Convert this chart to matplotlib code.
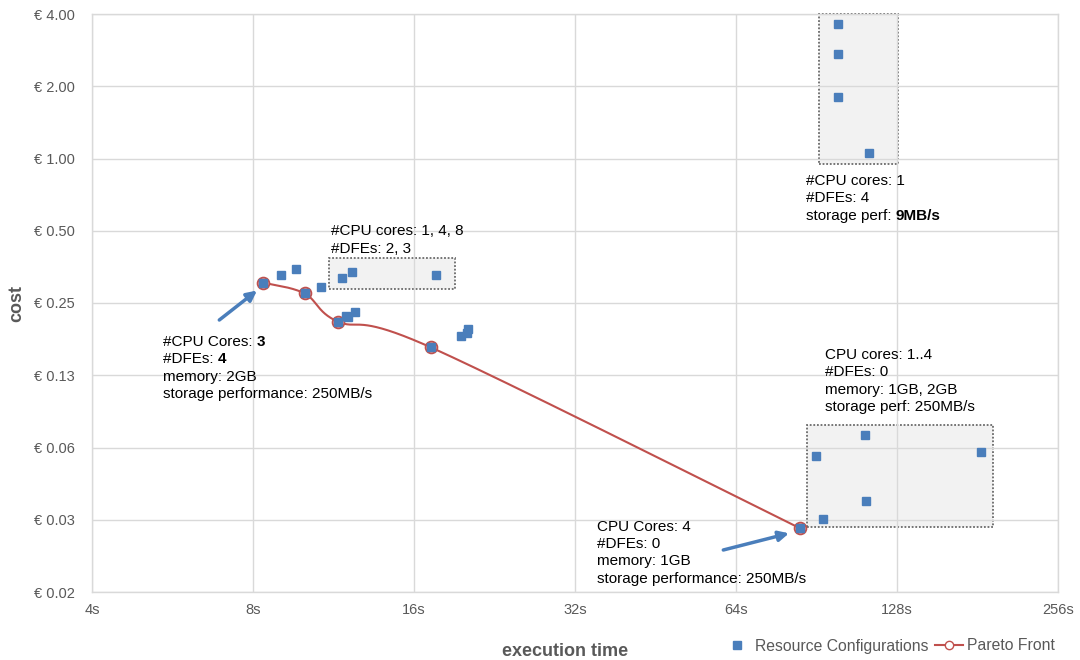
import numpy as np
import matplotlib
matplotlib.use("Agg")
import matplotlib.pyplot as plt
from matplotlib.patches import Rectangle
from matplotlib.lines import Line2D

plt.rcParams['font.family'] = ['Liberation Sans', 'DejaVu Sans']

# ---------------- data ----------------
config_time = [8.36, 9.04, 9.64, 9.99, 10.71, 11.54, 11.74, 12.24, 17.61,
               11.92, 12.05, 12.41, 17.18, 19.61, 20.07, 20.18,
               84.3, 90.4, 93.2, 111.4, 112.2, 184.0,
               99.4, 99.4, 99.2, 113.6]
config_cost = [0.304, 0.326, 0.3475, 0.274, 0.2924, 0.209, 0.3187, 0.3367, 0.328,
               0.2207, 0.2185, 0.230, 0.1636, 0.182, 0.187, 0.195,
               0.0288, 0.0578, 0.0314, 0.0707, 0.0373, 0.0600,
               3.62, 2.72, 1.809, 1.057]

pareto_time = [8.36, 9.99, 11.54, 17.18, 84.3]
pareto_cost = [0.304, 0.274, 0.209, 0.1636, 0.0288]

x_ticks = [4, 8, 16, 32, 64, 128, 256]
x_tick_labels = ["4s", "8s", "16s", "32s", "64s", "128s", "256s"]
y_ticks = [1/64, 1/32, 1/16, 1/8, 1/4, 1/2, 1, 2, 4]
y_tick_labels = ["€ 0.02", "€ 0.03", "€ 0.06", "€ 0.13", "€ 0.25",
                 "€ 0.50", "€ 1.00", "€ 2.00", "€ 4.00"]

# group boxes (time range, cost range)
boxes = [((11.1, 19.1), (0.286, 0.384)),
         ((91.6, 128.4), (0.946, 4.0)),
         ((87.0, 193.2), (0.0291, 0.0775))]

# annotation lines: list of (text, bold) segments per line
notes = [
    (331, 235.3, [[("#CPU cores: 1, 4, 8", False)], [("#DFEs: 2, 3", False)]]),
    (806, 185, [[("#CPU cores: 1", False)], [("#DFEs: 4", False)],
                [("storage perf: ", False), ("9MB/s", True)]]),
    (163, 346, [[("#CPU Cores: ", False), ("3", True)], [("#DFEs: ", False), ("4", True)],
                [("memory: 2GB", False)], [("storage performance: 250MB/s", False)]]),
    (825, 359, [[("CPU cores: 1..4", False)], [("#DFEs: 0", False)],
                [("memory: 1GB, 2GB", False)], [("storage perf: 250MB/s", False)]]),
    (597, 530.7, [[("CPU Cores: 4", False)], [("#DFEs: 0", False)],
                  [("memory: 1GB", False)], [("storage performance: 250MB/s", False)]]),
]

# ---------------- style ----------------
W, H = 1080, 660
BLUE = '#4a7ebb'
RED = '#c0504d'
GRID = '#d9d9d9'
GRAY = '#595959'

fig = plt.figure(figsize=(W/100, H/100), dpi=100)
ax = fig.add_axes([92/W, (H-592)/H, 966/W, 578/H])
ax.set_xscale('log', base=2)
ax.set_yscale('log', base=2)
ax.set_xlim(4, 256)
ax.set_ylim(1/64, 4)
ax.set_xticks(x_ticks)
ax.set_xticklabels(x_tick_labels)
ax.set_yticks(y_ticks)
ax.set_yticklabels(y_tick_labels)
ax.minorticks_off()
ax.tick_params(length=0, labelsize=10.5, labelcolor=GRAY)
ax.tick_params(axis='y', pad=12.5)
ax.tick_params(axis='x', pad=8)
ax.grid(True, color=GRID, lw=1)
ax.set_axisbelow(True)
for s in ax.spines.values():
    s.set_color(GRID)
    s.set_linewidth(1)

# boxes
for (x0, x1), (y0, y1) in boxes:
    ax.add_patch(Rectangle((x0, y0), x1 - x0, y1 - y0, facecolor='#f2f2f2',
                           edgecolor='#6a6a6a', lw=1.3, ls=(0, (1, 1)),
                           zorder=0.3, clip_on=False))

# smooth Pareto line (Bezier smoothing in display-scaled log space)
SX, SY = 161.0, 72.25
P = np.column_stack([np.log2(pareto_time) * SX, np.log2(pareto_cost) * SY])
curve = []
n = len(P)
for i in range(n - 1):
    p0 = P[i - 1] if i > 0 else P[i]
    p1 = P[i]
    p2 = P[i + 1]
    p3 = P[i + 2] if i + 2 < n else P[i + 1]
    c1 = p1 + (p2 - p0) / 6.0
    c2 = p2 - (p3 - p1) / 6.0
    t = np.linspace(0, 1, 60)[:, None]
    seg = ((1 - t) ** 3) * p1 + 3 * ((1 - t) ** 2) * t * c1 + 3 * (1 - t) * t ** 2 * c2 + t ** 3 * p2
    curve.append(seg)
curve = np.vstack(curve)
ax.plot(2 ** (curve[:, 0] / SX), 2 ** (curve[:, 1] / SY), color=RED, lw=1.5, zorder=3)
ax.plot(pareto_time, pareto_cost, ls='none', marker='o', ms=8.5, mfc='#e8b4b3',
        mec=RED, mew=1.3, zorder=3.5)

ax.plot(config_time, config_cost, ls='none', marker='s', ms=5.5, color=BLUE,
        mec=BLUE, zorder=4)

# axis labels
fig.text(565/W, 1 - 651/H, "execution time", ha='center', va='center',
         fontsize=13, fontweight='bold', color=GRAY)
fig.text(17/W, 1 - 303/H, "cost", ha='center', va='center', rotation=90,
         fontsize=13, fontweight='bold', color=GRAY)

# annotations
LS = 17.3
for px, py, lines in notes:
    for i, segs in enumerate(lines):
        y = py + i * LS
        txt, bold = segs[0]
        t = fig.text(px/W, 1 - y/H, txt, ha='left', va='baseline', fontsize=11,
                     color='black', fontweight='bold' if bold else 'normal')
        for txt, bold in segs[1:]:
            t = ax.annotate(txt, xy=(1, 0), xycoords=t, ha='left', va='bottom',
                            fontsize=11, color='black',
                            fontweight='bold' if bold else 'normal',
                            annotation_clip=False)

# arrows
for (tx, ty), (hx, hy) in [((219.3, 320), (257, 290.5)), ((723.3, 550), (789, 533.3))]:
    ax.annotate("", xy=(hx, H - hy), xycoords='figure pixels',
                xytext=(tx, H - ty), textcoords='figure pixels',
                arrowprops=dict(arrowstyle='-|>', color=BLUE, lw=2.5,
                                mutation_scale=15, shrinkA=0, shrinkB=0))

# legend
handles = [Line2D([], [], ls='none', marker='s', ms=5.5, color=BLUE),
           Line2D([], [], color=RED, lw=1.5, marker='o', ms=6, mfc='white', mec=RED)]
leg = fig.legend(handles, ["Resource Configurations", "Pareto Front"], ncol=2,
                 loc='center left', bbox_to_anchor=(723/W, 1 - 646/H),
                 frameon=False, fontsize=11.3, handlelength=1.75, handletextpad=0.27,
                 columnspacing=0.45, borderpad=0, borderaxespad=0)
for t in leg.get_texts():
    t.set_color(GRAY)

fig.savefig("out.png", dpi=100)
